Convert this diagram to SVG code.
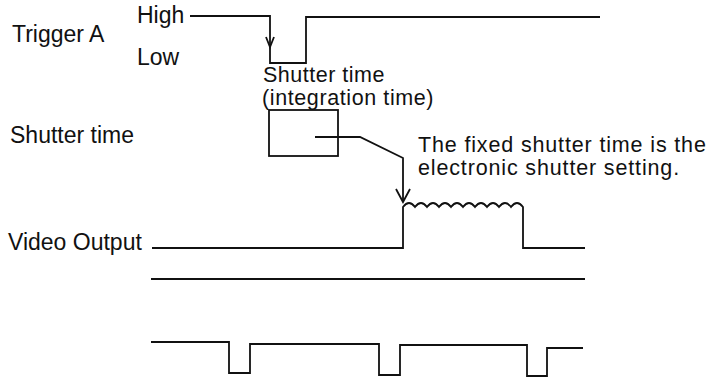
<svg xmlns="http://www.w3.org/2000/svg" width="719" height="378" viewBox="0 0 719 378">
<style>
text{font-family:"Liberation Sans",Arial,sans-serif;font-size:23px;fill:#111}
.m{font-size:21.5px}
.w{fill:none;stroke:#111;stroke-width:1.8;stroke-linejoin:miter}
</style>
<rect width="719" height="378" fill="#fff"/>
<g id="labels">
<text x="12" y="42">Trigger A</text>
<text x="137" y="23">High</text>
<text x="137" y="65">Low</text>
<text x="10" y="143">Shutter time</text>
<text x="8" y="250">Video Output</text>
<text class="m" x="263" y="82" letter-spacing="0.5">Shutter time</text>
<text class="m" x="262" y="105" letter-spacing="0.6">(integration time)</text>
<text class="m" x="418" y="152" letter-spacing="0.85">The fixed shutter time is the</text>
<text class="m" x="418" y="175" letter-spacing="0.85">electronic shutter setting.</text>
</g>
<g id="trigger">
<path class="w" d="M190,16 H270 V63 H306 V17 H600"/>
<path class="w" d="M266,37 L270,47 L274,37"/>
</g>
<g id="shutter-box">
<rect class="w" x="269" y="110" width="69" height="46"/>
</g>
<g id="video-output">
<path class="w" d="M152,248 H403 V207 q6,-8 12,0 q6,-8 12,0 q6,-8 12,0 q6,-8 12,0 q6,-8 12,0 q6,-8 12,0 q6,-8 12,0 q6,-8 12,0 q6,-8 12,0 q6,-8 12,0 V248 H585"/>
</g>
<g id="line2">
<path class="w" d="M151,279 H585"/>
</g>
<g id="pulses">
<path class="w" d="M151,342 H229 V373 H250 V344 H379 V375 H400 V345 H527 V376 H547 V348 H583"/>
</g>
<g id="connectors">
<path class="w" d="M315,137 H360 L403,158 V202"/>
<path class="w" d="M396,189 L403,202 L410,189"/>
</g>
</svg>
